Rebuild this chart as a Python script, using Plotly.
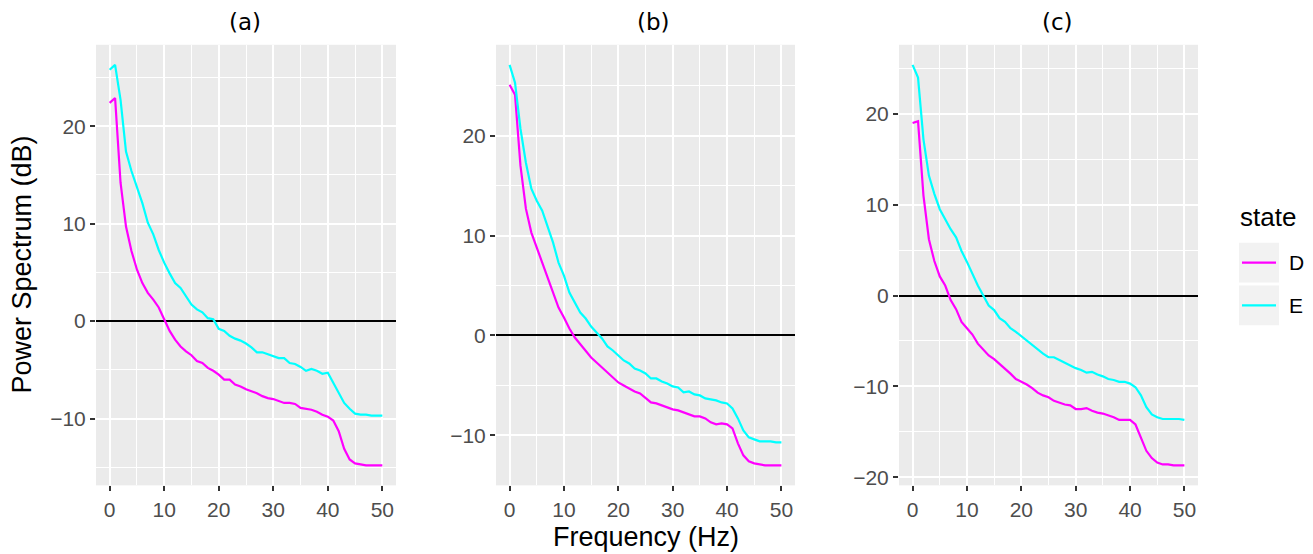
import plotly.graph_objs as go

# the page has an 8px body margin, so the figure is drawn 8px smaller and shifted
OFF = 8
W = 1313 - OFF
H = 554 - OFF

freq = list(range(0, 51))  # Hz

# panel (a)
a_D = [22.4, 22.9, 14.2, 9.7, 7.2, 5.3, 3.9, 2.9, 2.2, 1.4, 0.2, -1.0, -1.9, -2.6, -3.1, -3.5, -4.1, -4.3, -4.8, -5.1,
       -5.5, -6.0, -6.0, -6.5, -6.7, -7.0, -7.2, -7.4, -7.7, -7.9, -8.0, -8.2, -8.4, -8.4, -8.5, -8.9, -9.0, -9.1, -9.3, -9.6,
       -9.8, -10.2, -11.3, -13.1, -14.2, -14.6, -14.7, -14.8, -14.8, -14.8, -14.8]
a_E = [25.8, 26.3, 22.7, 17.4, 15.4, 13.7, 12.1, 10.1, 8.9, 7.3, 6.0, 4.9, 3.9, 3.4, 2.6, 1.7, 1.2, 0.9, 0.3, 0.2,
       -0.8, -1.0, -1.5, -1.8, -2.0, -2.3, -2.7, -3.2, -3.2, -3.4, -3.6, -3.8, -3.8, -4.3, -4.4, -4.7, -5.1, -4.9, -5.1, -5.4,
       -5.3, -6.3, -7.3, -8.4, -9.0, -9.5, -9.6, -9.6, -9.7, -9.7, -9.7]
# panel (b)
b_D = [25.1, 24.1, 17.0, 12.7, 10.3, 8.7, 7.3, 5.8, 4.3, 2.8, 1.8, 0.7, -0.2, -0.9, -1.5, -2.2, -2.7, -3.2, -3.6, -4.1,
       -4.7, -5.0, -5.3, -5.6, -5.8, -6.3, -6.7, -6.8, -7.0, -7.2, -7.4, -7.5, -7.7, -7.9, -8.1, -8.1, -8.3, -8.7, -8.9, -8.8,
       -8.9, -9.3, -10.8, -12.0, -12.6, -12.8, -12.9, -13.0, -13.0, -13.0, -13.0]
b_E = [27.1, 25.3, 20.7, 17.3, 14.7, 13.5, 12.5, 11.0, 9.3, 7.3, 6.0, 4.3, 3.3, 2.3, 1.7, 0.9, 0.3, -0.3, -1.1, -1.5,
       -2.0, -2.5, -2.8, -3.3, -3.5, -3.8, -4.3, -4.3, -4.6, -4.8, -5.1, -5.2, -5.7, -5.6, -5.9, -6.0, -6.3, -6.4, -6.5, -6.7,
       -6.8, -7.3, -8.3, -9.5, -10.2, -10.4, -10.6, -10.6, -10.6, -10.7, -10.7]
# panel (c)
c_D = [19.0, 19.2, 11.0, 6.2, 3.8, 2.1, 1.1, -0.5, -1.5, -2.9, -3.6, -4.3, -5.3, -6.0, -6.6, -7.0, -7.5, -8.1, -8.6, -9.2,
       -9.5, -9.8, -10.2, -10.7, -11.0, -11.2, -11.6, -11.8, -12.0, -12.1, -12.5, -12.5, -12.4, -12.7, -12.9, -13.0, -13.2, -13.4, -13.7, -13.7,
       -13.7, -14.2, -15.6, -17.1, -17.9, -18.4, -18.6, -18.6, -18.7, -18.7, -18.7]
c_E = [25.4, 24.0, 17.2, 13.2, 11.2, 9.5, 8.4, 7.3, 6.4, 4.9, 3.7, 2.4, 1.1, 0.0, -1.1, -1.6, -2.5, -2.9, -3.6, -4.0,
       -4.5, -4.9, -5.5, -5.9, -6.4, -6.8, -6.8, -7.1, -7.4, -7.7, -8.0, -8.2, -8.5, -8.4, -8.7, -8.9, -9.2, -9.3, -9.5, -9.5,
       -9.7, -10.1, -11.0, -12.3, -13.1, -13.4, -13.6, -13.6, -13.6, -13.6, -13.7]

titles = ['(a)', '(b)', '(c)']
states = ['D', 'E']
stateColors = {'D': '#FF00FF', 'E': '#00FFFF'}

panels = [(a_D, a_E), (b_D, b_E), (c_D, c_E)]

# pixel boxes of the panels (page pixels)
panelX = [(96, 396), (496, 795), (899, 1198)]
panelTop = 45
panelBottom = 488
titleX = [245, 653, 1057]

tickFont = dict(family='Liberation Sans, Arial, sans-serif', size=21, color='#4D4D4D')
LineWidth = 2.2


def px(x):
    return (x - OFF) / W


def py(y):
    return 1 - (y - OFF) / H


dataPlot = []
layoutAxes = {}
for i, (dD, dE) in enumerate(panels):
    n = '' if i == 0 else str(i + 1)
    for st, vals in zip(states, (dD, dE)):
        dataPlot.append(go.Scatter(x=freq, y=vals, mode='lines', name=st,
                                   xaxis='x' + n, yaxis='y' + n, showlegend=False,
                                   line=dict(width=LineWidth, color=stateColors[st])))
    lo = min(dD + dE)
    hi = max(dD + dE)
    pad = (hi - lo) * 0.05
    layoutAxes['xaxis' + n] = dict(domain=[px(panelX[i][0]), px(panelX[i][1])], anchor='y' + n,
                                   range=[-2.5, 52.5], tick0=0, dtick=10,
                                   showgrid=True, gridcolor='white', gridwidth=2,
                                   minor=dict(dtick=5, showgrid=True, gridcolor='white', gridwidth=1),
                                   zeroline=False, showline=False,
                                   ticks='outside', ticklen=5, tickwidth=2, tickcolor='#333333',
                                   tickfont=tickFont)
    layoutAxes['yaxis' + n] = dict(domain=[py(panelBottom), py(panelTop)], anchor='x' + n,
                                   range=[lo - pad, hi + pad], tick0=0, dtick=10,
                                   showgrid=True, gridcolor='white', gridwidth=2,
                                   minor=dict(dtick=5, showgrid=True, gridcolor='white', gridwidth=1),
                                   zeroline=True, zerolinecolor='black', zerolinewidth=2,
                                   showline=False,
                                   ticks='outside', ticklen=5, tickwidth=2, tickcolor='#333333',
                                   tickfont=tickFont)

annots = []
for i, t in enumerate(titles):
    annots.append(dict(text=t, x=px(titleX[i]), y=py(22), xref='paper', yref='paper',
                       showarrow=False, xanchor='center', yanchor='middle',
                       font=dict(family='DejaVu Sans, sans-serif', size=23, color='black')))

annots.append(dict(text='Frequency (Hz)', x=px(646), y=py(540), xref='paper', yref='paper',
                   showarrow=False, xanchor='center', yanchor='middle',
                   font=dict(family='Liberation Sans, Arial, sans-serif', size=27, color='black')))
annots.append(dict(text='Power Spectrum (dB)', x=px(22), y=py(266), xref='paper', yref='paper',
                   showarrow=False, xanchor='center', yanchor='middle', textangle=-90,
                   font=dict(family='Liberation Sans, Arial, sans-serif', size=27, color='black')))

##################################### legend (drawn by hand, ggplot style) ##############################
annots.append(dict(text='state', x=px(1238), y=py(218), xref='paper', yref='paper',
                   showarrow=False, xanchor='left', yanchor='middle',
                   font=dict(family='Liberation Sans, Arial, sans-serif', size=26, color='black')))
shapes = []
keyTop = [244, 287]
for k, st in enumerate(states):
    y0 = keyTop[k]
    shapes.append(dict(type='rect', xref='paper', yref='paper',
                       x0=px(1239), x1=px(1279), y0=py(y0 + 40), y1=py(y0),
                       fillcolor='#F2F2F2', line=dict(width=0), layer='below'))
    shapes.append(dict(type='line', xref='paper', yref='paper',
                       x0=px(1242), x1=px(1276), y0=py(y0 + 20), y1=py(y0 + 20),
                       line=dict(color=stateColors[st], width=LineWidth)))
    annots.append(dict(text=st, x=px(1287), y=py(y0 + 20), xref='paper', yref='paper',
                       showarrow=False, xanchor='left', yanchor='middle',
                       font=dict(family='Liberation Sans, Arial, sans-serif', size=21, color='black')))

layoutDataPlot = go.Layout(width=W, height=H, autosize=False,
                           margin=dict(l=0, r=0, t=0, b=0),
                           paper_bgcolor='white', plot_bgcolor='#EBEBEB',
                           annotations=annots, shapes=shapes,
                           showlegend=False, hovermode='closest',
                           **layoutAxes)

fig = go.Figure(data=dataPlot, layout=layoutDataPlot)
fig.write_html('out.html')
